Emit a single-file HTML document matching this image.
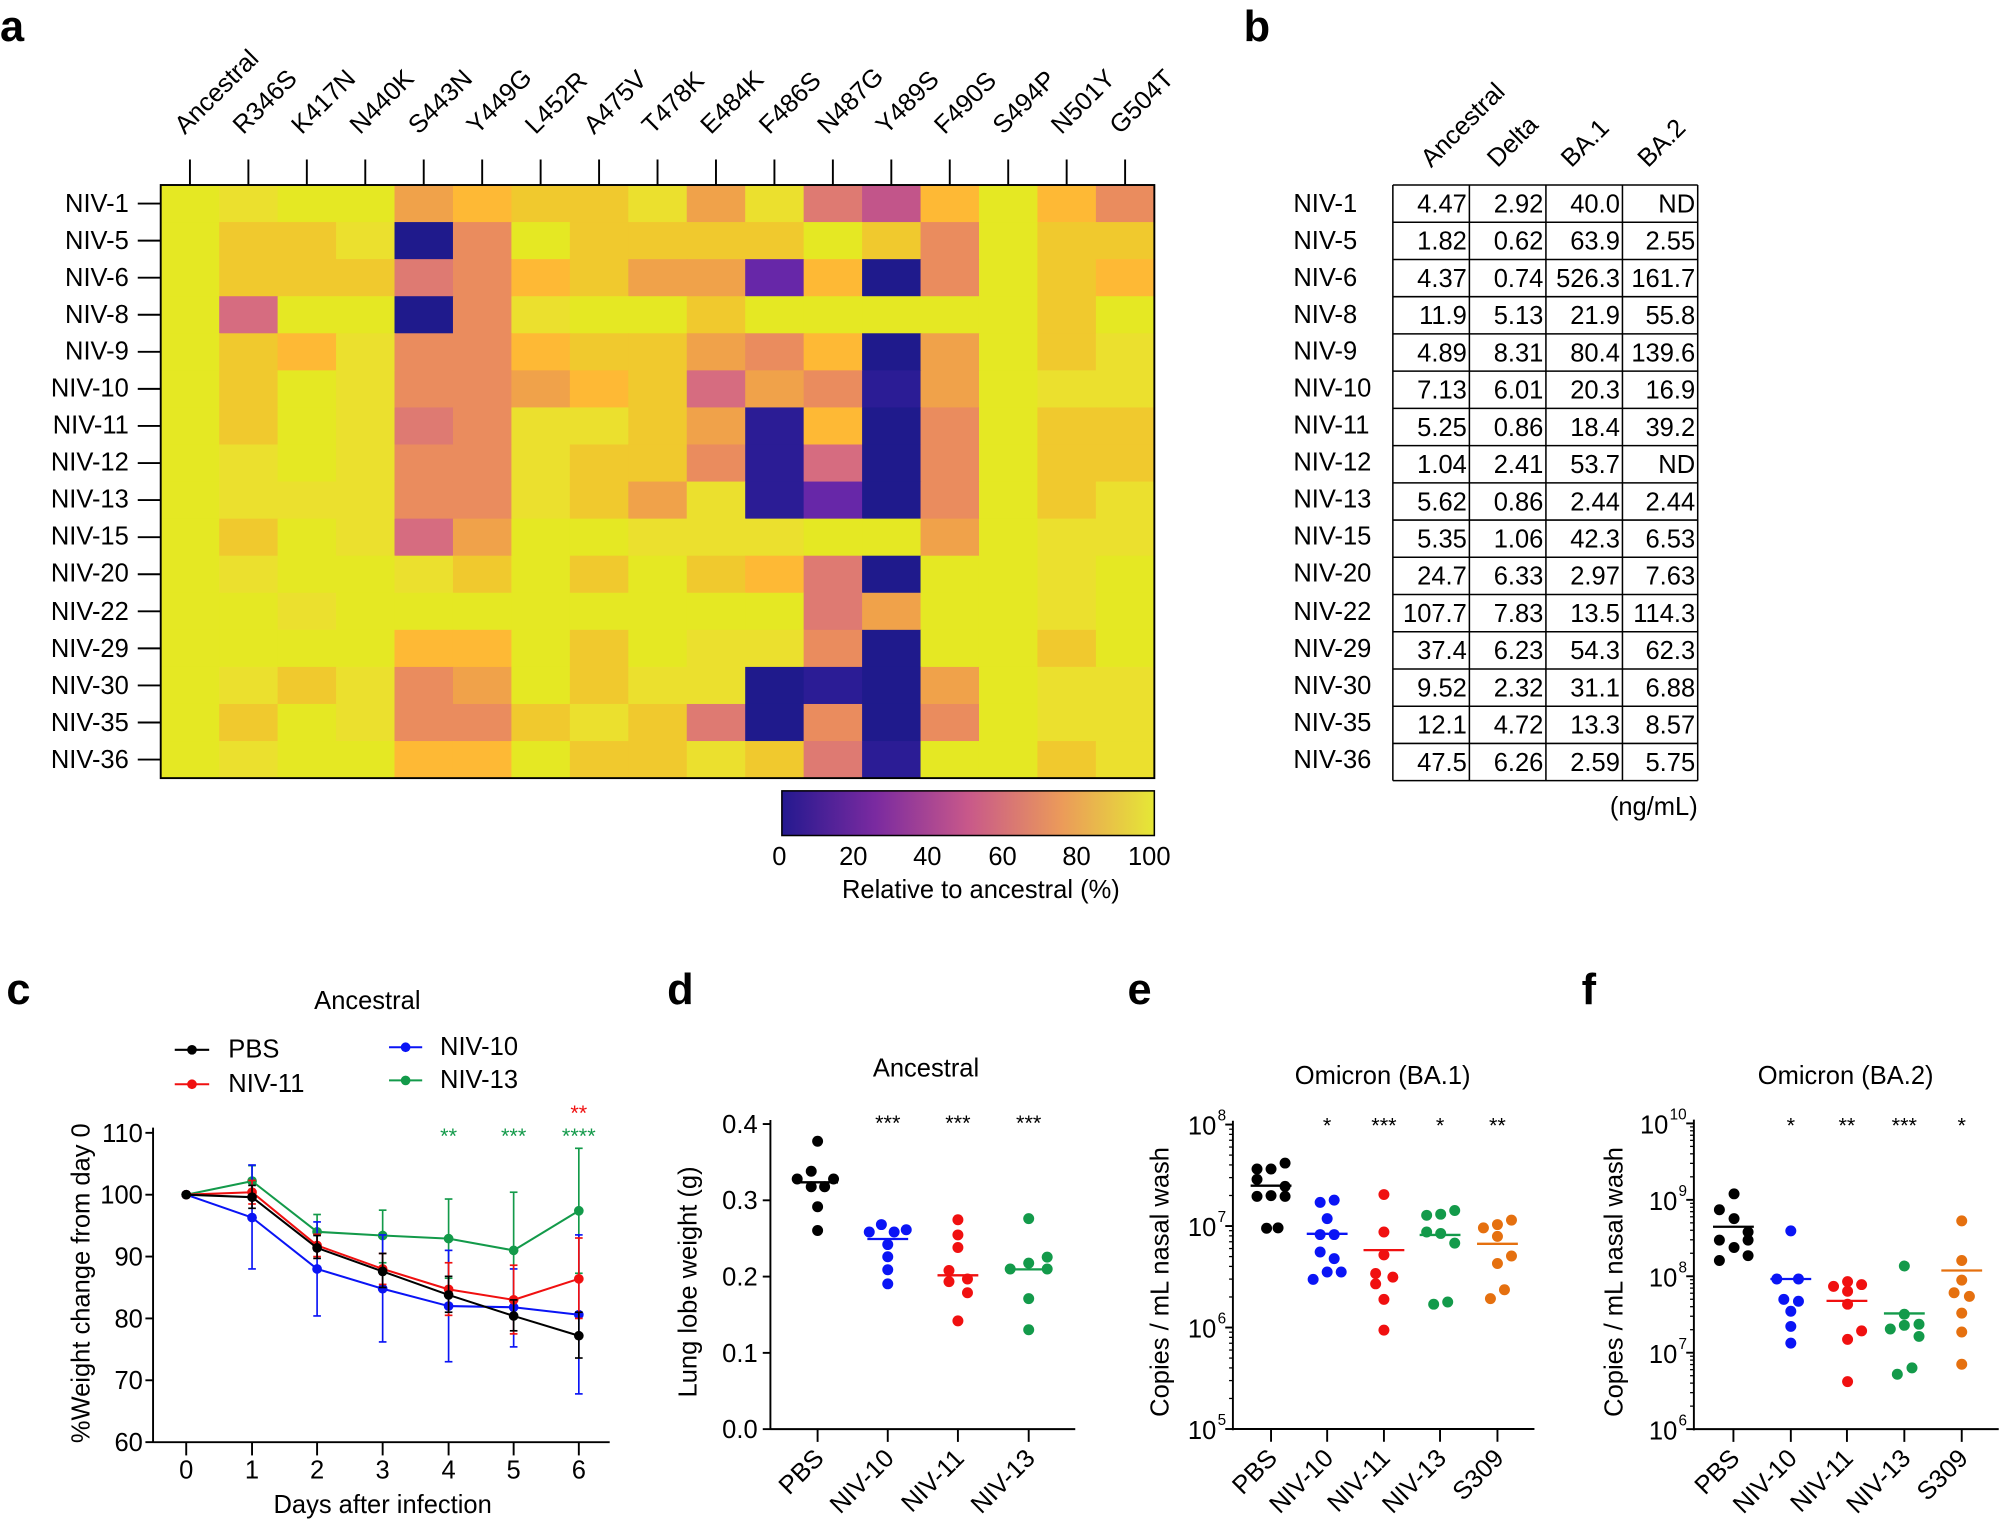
<!DOCTYPE html>
<html><head><meta charset="utf-8"><style>
html,body{margin:0;padding:0;background:#fff}
svg{display:block}
text{font-family:"Liberation Sans",Arial,sans-serif}
</style></head><body>
<svg id="s" width="2000" height="1532" viewBox="0 0 1568 1201" xmlns="http://www.w3.org/2000/svg">
<defs><linearGradient id="pl" x1="0" x2="1" y1="0" y2="0">
<stop offset="0" stop-color="#24198f"/><stop offset="0.25" stop-color="#7a2aa0"/><stop offset="0.5" stop-color="#c8588a"/><stop offset="0.75" stop-color="#eb9a5a"/><stop offset="1" stop-color="#e5e835"/></linearGradient></defs>
<text x="0" y="32" font-size="34" font-weight="bold">a</text>
<text x="975" y="32" font-size="34" font-weight="bold">b</text>
<text x="5" y="787" font-size="34" font-weight="bold">c</text>
<text x="523" y="787" font-size="34" font-weight="bold">d</text>
<text x="884" y="787" font-size="34" font-weight="bold">e</text>
<text x="1240" y="787" font-size="34" font-weight="bold">f</text>
<g id="heat"></g>
<rect x="126" y="145" width="779" height="465" fill="none" stroke="#000" stroke-width="1.5"/>
<g font-size="20" text-anchor="end">
<text x="101" y="166">NIV-1</text><text x="101" y="195">NIV-5</text><text x="101" y="224">NIV-6</text><text x="101" y="253">NIV-8</text><text x="101" y="282">NIV-9</text><text x="101" y="311">NIV-10</text><text x="101" y="340">NIV-11</text><text x="101" y="369">NIV-12</text><text x="101" y="398">NIV-13</text><text x="101" y="427">NIV-15</text><text x="101" y="456">NIV-20</text><text x="101" y="486">NIV-22</text><text x="101" y="515">NIV-29</text><text x="101" y="544">NIV-30</text><text x="101" y="573">NIV-35</text><text x="101" y="602">NIV-36</text>
</g>
<g id="collab" font-size="20"></g>
<rect x="613" y="620" width="292" height="35" fill="url(#pl)" stroke="#000" stroke-width="1.2"/>
<g font-size="20" text-anchor="middle"><text x="611" y="678">0</text><text x="669" y="678">20</text><text x="727" y="678">40</text><text x="786" y="678">60</text><text x="844" y="678">80</text><text x="901" y="678">100</text>
<text x="769" y="704">Relative to ancestral (%)</text></g>
<g font-size="20">
<text x="1014" y="166">NIV-1</text><text x="1014" y="195">NIV-5</text><text x="1014" y="224">NIV-6</text><text x="1014" y="253">NIV-8</text><text x="1014" y="282">NIV-9</text><text x="1014" y="311">NIV-10</text><text x="1014" y="340">NIV-11</text><text x="1014" y="369">NIV-12</text><text x="1014" y="398">NIV-13</text><text x="1014" y="427">NIV-15</text><text x="1014" y="456">NIV-20</text><text x="1014" y="486">NIV-22</text><text x="1014" y="515">NIV-29</text><text x="1014" y="544">NIV-30</text><text x="1014" y="573">NIV-35</text><text x="1014" y="602">NIV-36</text>
<text x="1331" y="639" text-anchor="end">(ng/mL)</text>
<text transform="translate(1122,132) rotate(-45)">Ancestral</text>
<text transform="translate(1174,132) rotate(-45)">Delta</text>
<text transform="translate(1232,132) rotate(-45)">BA.1</text>
<text transform="translate(1292,132) rotate(-45)">BA.2</text>
</g>
<g id="tbl" font-size="20" text-anchor="end"></g>
<g id="plots"></g>
<g font-size="20" text-anchor="middle">
<text x="288" y="791">Ancestral</text>
<text x="726" y="844">Ancestral</text>
<text x="1084" y="850">Omicron (BA.1)</text>
<text x="1447" y="850">Omicron (BA.2)</text>
<text x="300" y="1186">Days after infection</text>
</g>
<g font-size="20">
<text x="179" y="829">PBS</text><text x="179" y="856">NIV-11</text><text x="345" y="827">NIV-10</text><text x="345" y="853">NIV-13</text>
</g>
<g font-size="20" text-anchor="middle">
<text transform="translate(70,1006) rotate(-90)">%Weight change from day 0</text>
<text transform="translate(546,1005) rotate(-90)">Lung lobe weight (g)</text>
<text transform="translate(916,1005) rotate(-90)">Copies / mL nasal wash</text>
<text transform="translate(1272,1005) rotate(-90)">Copies / mL nasal wash</text>
</g>
<g id="sig" font-size="17" text-anchor="middle"></g>
</svg>
<script>
var NS="http://www.w3.org/2000/svg";
function el(p,t,a,txt){var e=document.createElementNS(NS,t);for(var k in a)e.setAttribute(k,a[k]);if(txt!==undefined)e.textContent=txt;document.getElementById(p).appendChild(e);return e;}
var pal={Y:"#e5e823",L:"#ebe02e",G:"#f0c92e",O:"#feb935",o:"#f0a24a",S:"#ea8c5e",P:"#de7a72",R:"#d66c80",M:"#c2558a",V:"#6727a8",B:"#1f1a8c",b:"#2b1c95"};
var rows=["YLYYoOGGLoLPMOYOS","YGGLBSYGGGGYGSYGG","YGGGPSOGooVOBSYGO","YRYYBSLYYGYYYYYGY","YGOLSSOGGoSOBoYGL","YGYLSSoOGRoSboYLL","YGYLPSLLGobOBSYGG","YLYLSSLGGSbRBSYGG","YLLLSSLGoLbVBSYGL","YGYLRoYYLLLYYoYLL","YLYYLGYGYGOPBYYLY","YYLYYYYYYYYPoYYLY","YYYYOOYGYLLSBYYGY","YLGLSoYGLLBbBoYLL","YGYLSSGLGPBSBSYLL","YLYYOOYGGLGPbYYGL"];
var cw=779/17,rh=465/16;
rows.forEach(function(r,i){for(var j=0;j<17;j++)el("heat","rect",{x:126+j*cw,y:145+i*rh,width:cw+0.6,height:rh+0.6,fill:pal[r[j]]});
 el("heat","line",{x1:108,x2:126,y1:145+(i+.5)*rh,y2:145+(i+.5)*rh,stroke:"#000","stroke-width":1.5});});
var cols=["Ancestral","R346S","K417N","N440K","S443N","Y449G","L452R","A475V","T478K","E484K","F486S","N487G","Y489S","F490S","S494P","N501Y","G504T"];
cols.forEach(function(c,j){var x=126+(j+.5)*cw;el("heat","line",{x1:x,x2:x,y1:125,y2:145,stroke:"#000","stroke-width":1.5});
 el("collab","text",{transform:"translate("+(x-4)+",106) rotate(-45)"},c);});
var tv=[["4.47","2.92","40.0","ND"],["1.82","0.62","63.9","2.55"],["4.37","0.74","526.3","161.7"],["11.9","5.13","21.9","55.8"],["4.89","8.31","80.4","139.6"],["7.13","6.01","20.3","16.9"],["5.25","0.86","18.4","39.2"],["1.04","2.41","53.7","ND"],["5.62","0.86","2.44","2.44"],["5.35","1.06","42.3","6.53"],["24.7","6.33","2.97","7.63"],["107.7","7.83","13.5","114.3"],["37.4","6.23","54.3","62.3"],["9.52","2.32","31.1","6.88"],["12.1","4.72","13.3","8.57"],["47.5","6.26","2.59","5.75"]];
var cx=[1092,1152,1212,1272,1331],th=467/16;
tv.forEach(function(r,i){r.forEach(function(v,j){el("tbl","text",{x:cx[j+1]-2,y:145+i*th+21.5},v);});});
for(var i=0;i<=16;i++)el("tbl","line",{x1:1092,x2:1331,y1:145+i*th,y2:145+i*th,stroke:"#000","stroke-width":1.2});
cx.forEach(function(x){el("tbl","line",{x1:x,x2:x,y1:145,y2:612,stroke:"#000","stroke-width":1.2});});
function L(x1,y1,x2,y2,c,w){el("plots","line",{x1:x1,y1:y1,x2:x2,y2:y2,stroke:c||"#000","stroke-width":w||1.5});}
function T(x,y,s,a,fs){el("plots","text",{x:x,y:y,"text-anchor":a||"end","font-size":fs||20},s);}
function D(x,y,c,r){el("plots","circle",{cx:x,cy:y,r:r||4.3,fill:c});}
var cy=function(v){return 1130.6-(v-60)*4.85;};
var dx=[146,197.6,248.6,300,351.7,402.7,453.8];
L(120,884,120,1131);L(120,1130.6,478,1130.6);
[60,70,80,90,100,110].forEach(function(v){L(114,cy(v),120,cy(v));T(112,cy(v)+7,v);});
dx.forEach(function(x,i){L(x,1130.6,x,1141);T(x,1159,i,"middle");});
var ser=[["#139a4a",[100,102.2,94,93.4,92.9,91,97.4],[[0,0],[99.5,104.7],[91,96.8],[89,97.5],[86.5,99.3],[81.6,100.4],[87.3,107.5]]],
["#0a14f5",[100,96.3,88,84.8,82,81.8,80.6],[[0,0],[88,104.8],[80.4,95.6],[76.2,93.5],[73,91],[75.4,88],[67.8,93.5]]],
["#f01010",[100,100.4,91.8,88,84.7,83,86.4],[[0,0],[98.5,102.3],[90,93.6],[85.5,90.5],[80.5,89],[77.5,88.6],[80,93]]],
["#000",[100,99.6,91.4,87.6,83.8,80.4,77.2],[[0,0],[97.8,101.5],[89.7,93.4],[85,90.5],[81,86.8],[78,83],[73.6,81]]]];
ser.forEach(function(s){var c=s[0];for(var i=1;i<7;i++){var e=s[2][i];L(dx[i],cy(e[0]),dx[i],cy(e[1]),c,1.3);L(dx[i]-3,cy(e[0]),dx[i]+3,cy(e[0]),c,1.3);L(dx[i]-3,cy(e[1]),dx[i]+3,cy(e[1]),c,1.3);}
 for(var i=0;i<6;i++)L(dx[i],cy(s[1][i]),dx[i+1],cy(s[1][i+1]),c,1.6);
 for(var i=0;i<7;i++)D(dx[i],cy(s[1][i]),c,3.8);});
[["#000",823,137,164],["#f01010",850,137,164],["#0a14f5",821,305,331],["#139a4a",847,305,331]].forEach(function(l){L(l[2],l[1],l[3],l[1],l[0],1.6);D((l[2]+l[3])/2,l[1],l[0],3.8);});
el("sig","text",{x:351.7,y:896,style:"fill:#139a4a"},"**");el("sig","text",{x:402.7,y:896,style:"fill:#139a4a"},"***");el("sig","text",{x:453.8,y:896,style:"fill:#139a4a"},"****");el("sig","text",{x:453.8,y:878,style:"fill:#f01010"},"**");
var dy=function(v){return 1120.4-v*598;};
L(604,878,604,1121);L(604,1120.4,843,1120.4);
[0,0.1,0.2,0.3,0.4].forEach(function(v){L(598,dy(v),604,dy(v));T(594,dy(v)+7,v.toFixed(1));});
var f=function(z){return 0.2904*z+748.6;};
var dcat=[["PBS",641,"#000",[[1282,503],[1272,584],[1250,605],[1307,605],[1272,626],[1293,626],[1282,680],[1282,744]],614,1282],
["NIV-10",696,"#0a14f5",[[1382,728],[1363,748],[1402,748],[1421,742],[1392,782],[1392,815],[1392,850],[1392,888]],767,1392],
["NIV-11",751,"#f01010",[[1502,715],[1502,756],[1502,790],[1488,852],[1517,875],[1488,882],[1517,912],[1502,988]],865,1502],
["NIV-13",806.5,"#139a4a",[[45,712],[45,832],[16,848],[74,816],[74,848],[45,928],[45,1012]],849,45]];
function cat2(list,base){list.forEach(function(c){L(c[1],base,c[1],base+10);
 c[3].forEach(function(p){D(c[1]+(p[0]-c[5])*0.5,f(p[1]),c[2]);});
 L(c[1]-16,f(c[4]),c[1]+16,f(c[4]),c[2],1.8);
 el("plots","text",{transform:"translate("+(c[1]+6)+","+(base+24)+") rotate(-45)","text-anchor":"end","font-size":20},c[0]);});}
cat2(dcat,1120.4);
[696,751,806.5].forEach(function(x){el("sig","text",{x:x,y:886},"***");});
function logax(x0,x1,top,bot,lo,hi){L(x0,top-3,x0,bot+1);L(x0,bot,x1,bot);var per=(bot-top)/(hi-lo);
 for(var d=lo;d<=hi;d++){var y=bot-(d-lo)*per;L(x0-6,y,x0,y);
  var ex=String(d);var ew=ex.length*7;
  el("plots","text",{x:x0-6-ew,y:y+8,"text-anchor":"end","font-size":20},"10");
  el("plots","text",{x:x0-5-ew,y:y-3,"font-size":12},ex);
  if(d<hi)for(var k=2;k<10;k++){var yy=y-Math.log10(k)*per;L(x0-3,yy,x0,yy,"#000",1);}}}
logax(966.6,1203,881.6,1120.3,5,8);
logax(1328,1567,880.7,1120.4,6,10);
var ec=[["PBS",996.5,"#000",[[403,578],[425,578],[447,562],[403,606],[447,625],[403,652],[425,650],[447,652],[418,738],[436,737]],623,425],
["NIV-10",1040.5,"#0a14f5",[[502,668],[524,662],[513,712],[502,755],[524,755],[502,802],[524,820],[491,876],[513,856],[535,856]],753,513],
["NIV-11",1085,"#f01010",[[602,647],[602,748],[602,810],[589,860],[616,870],[589,888],[602,930],[602,1013]],797,602],
["NIV-13",1129,"#139a4a",[[669,703],[691,700],[713,690],[669,748],[691,752],[713,778],[680,943],[702,937]],756,690],
["S309",1174,"#e5700f",[[758,737],[780,728],[802,716],[780,760],[802,813],[780,833],[791,904],[769,928]],780,780]];
cat2(ec,1120.3);
var fc=[["PBS",1359,"#000",[[1151,645],[1128,688],[1151,712],[1173,748],[1128,770],[1151,790],[1173,770],[1128,825],[1173,812]],734,1150],
["NIV-10",1404,"#0a14f5",[[1240,745],[1218,875],[1252,875],[1229,930],[1252,935],[1240,962],[1240,1003],[1240,1048]],875,1240],
["NIV-11",1448,"#f01010",[[1307,895],[1329,882],[1351,890],[1329,908],[1329,943],[1351,1015],[1329,1038],[1329,1152]],934,1328],
["NIV-13",1493,"#139a4a",[[1417,840],[1417,970],[1395,1010],[1417,1000],[1440,997],[1440,1030],[1406,1132],[1429,1115]],968,1417],
["S309",1538,"#e5700f",[[1507,718],[1507,825],[1507,878],[1495,912],[1519,922],[1507,967],[1507,1018],[1507,1105]],852,1507]];
cat2(fc,1120.4);
[[1040.5,"*"],[1085,"***"],[1129,"*"],[1174,"**"],[1404,"*"],[1448,"**"],[1493,"***"],[1538,"*"]].forEach(function(s){el("sig","text",{x:s[0],y:888},s[1]);});
</script>
</body></html>
